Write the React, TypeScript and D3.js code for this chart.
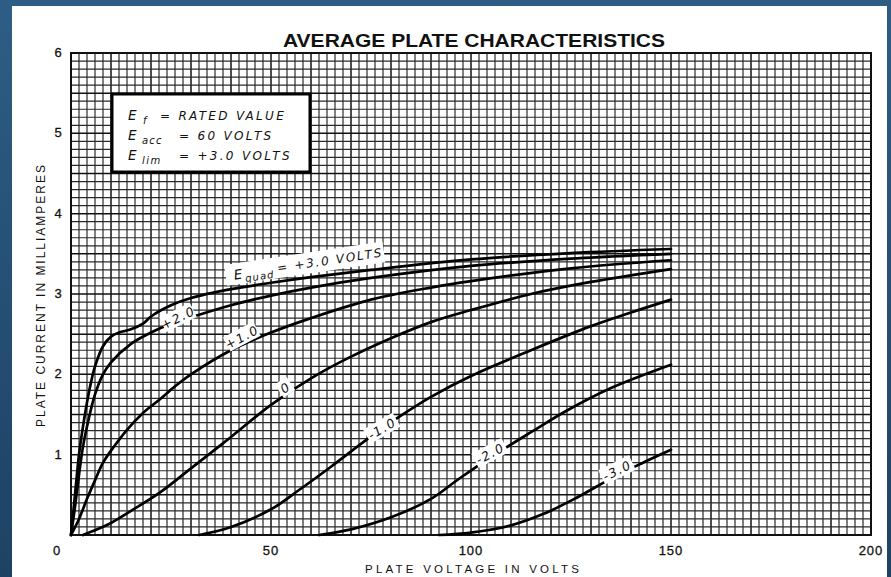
import React from "react";
import * as d3 from "d3";

// ---------- DATA ----------
const seriesNames = ["+3.0", "+2.0", "+1.0", "0", "-1.0", "-2.0", "-3.0"];

const volts_p3 = [0, 1, 2, 3, 4, 5, 6, 8, 10, 12, 15, 18, 20, 25, 30, 40, 50, 60, 75, 100, 125, 150];
const amps_p3 = [0, 0.5, 1.0, 1.35, 1.65, 1.9, 2.1, 2.35, 2.47, 2.52, 2.56, 2.63, 2.72, 2.86, 2.95, 3.06, 3.14, 3.21, 3.3, 3.43, 3.51, 3.56];

const volts_p2 = [0, 1, 2, 3, 4, 6, 8, 10, 15, 20, 25, 30, 40, 50, 60, 75, 100, 125, 150];
const amps_p2 = [0, 0.35, 0.75, 1.1, 1.35, 1.75, 2.0, 2.15, 2.38, 2.52, 2.63, 2.71, 2.86, 2.98, 3.08, 3.2, 3.35, 3.44, 3.5];

const volts_p1 = [0, 2, 4, 6, 8, 10, 14, 18, 22, 26, 30, 40, 50, 60, 75, 90, 100, 125, 150];
const amps_p1 = [0, 0.2, 0.45, 0.68, 0.9, 1.05, 1.31, 1.52, 1.68, 1.85, 2.0, 2.3, 2.52, 2.7, 2.93, 3.08, 3.16, 3.32, 3.42];

const volts_0 = [3, 5, 10, 15, 22, 30, 40, 50, 60, 70, 80, 90, 100, 115, 130, 150];
const amps_0 = [0, 0.04, 0.15, 0.3, 0.52, 0.83, 1.22, 1.62, 1.95, 2.22, 2.45, 2.65, 2.8, 3.0, 3.15, 3.31];

const volts_m1 = [32, 40, 50, 57, 65, 74, 82, 90, 100, 115, 130, 140, 150];
const amps_m1 = [0, 0.1, 0.32, 0.56, 0.85, 1.19, 1.47, 1.72, 1.98, 2.3, 2.6, 2.77, 2.93];

const volts_m2 = [62, 70, 80, 90, 97, 105, 115, 124, 135, 150];
const amps_m2 = [0, 0.07, 0.22, 0.45, 0.7, 0.97, 1.28, 1.55, 1.83, 2.12];

const volts_m3 = [92, 100, 110, 118, 125.5, 136, 143, 150];
const amps_m3 = [0, 0.03, 0.12, 0.26, 0.44, 0.73, 0.9, 1.06];

const allVolts = [volts_p3, volts_p2, volts_p1, volts_0, volts_m1, volts_m2, volts_m3];
const allAmps = [amps_p3, amps_p2, amps_p1, amps_0, amps_m1, amps_m2, amps_m3];

// curve label anchors (data coords) and tilt
const labelVolts = [58.5, 26.75, 42.7, 53.5, 77.7, 104.75, 136.5];
const labelAmps = [3.36, 2.71, 2.47, 1.84, 1.33, 1.02, 0.81];
const labelAngles = [-8.5, -26, -28, -34, -30, -28, -26];

const xTicks = [0, 50, 100, 150, 200];
const yTicks = [1, 2, 3, 4, 5, 6];

const title = "AVERAGE PLATE CHARACTERISTICS";
const xTitle = "PLATE VOLTAGE IN VOLTS";
const yTitle = "PLATE CURRENT IN MILLIAMPERES";

// ---------- LAYOUT ----------
const W = 891;
const H = 577;
const plotL = 71, plotR = 871, plotT = 53, plotB = 535;

const x = d3.scaleLinear().domain([0, 200]).range([plotL, plotR]);
const y = d3.scaleLinear().domain([0, 6]).range([plotB, plotT]);

const handFont = "'DejaVu Sans', 'Liberation Sans', sans-serif";

export default function App() {
  const line = d3
    .line<[number, number]>()
    .x((d) => x(d[0]))
    .y((d) => y(d[1]))
    .curve(d3.curveCatmullRom.alpha(0.5));

  const xGrid = d3.range(0, 101).map((i) => i * 2);
  const yGrid = d3.range(0, 61).map((i) => i / 10);

  return (
    <>
      <style>{"body{margin:0;}"}</style>
      <svg width={W} height={H} style={{ display: "block" }}>
        <defs>
          <linearGradient id="bg" x1="0" y1="0" x2="0" y2="1">
            <stop offset="0" stopColor="#2e5d85" />
            <stop offset="1" stopColor="#1d4264" />
          </linearGradient>
        </defs>
        <rect x={0} y={0} width={W} height={H} fill="url(#bg)" />
        <rect x={12} y={6} width={875} height={H} fill="#ffffff" />

        {/* title */}
        <text
          x={474}
          y={47}
          textAnchor="middle"
          fontFamily="'Liberation Sans', Arial, sans-serif"
          fontWeight="bold"
          fontSize={19}
          fill="#111"
          textLength={382}
          lengthAdjust="spacingAndGlyphs"
        >
          {title}
        </text>

        {/* grid */}
        <g>
          {xGrid.map((v, i) => (
            <line
              key={"gx" + i}
              x1={x(v)}
              x2={x(v)}
              y1={plotT}
              y2={plotB}
              stroke={i % 5 === 0 ? "#111" : "#2a2a2a"}
              strokeWidth={i % 5 === 0 ? 1.5 : 1.2}
            />
          ))}
          {yGrid.map((v, i) => (
            <line
              key={"gy" + i}
              x1={plotL}
              x2={plotR}
              y1={y(v)}
              y2={y(v)}
              stroke={i % 5 === 0 ? "#111" : "#2a2a2a"}
              strokeWidth={i % 5 === 0 ? 1.5 : 1.2}
            />
          ))}
          <rect
            x={plotL}
            y={plotT}
            width={plotR - plotL}
            height={plotB - plotT}
            fill="none"
            stroke="#111"
            strokeWidth={2}
          />
        </g>

        {/* curves */}
        <g>
          {allVolts.map((vs, k) => {
            const pts = vs.map((v, j) => [v, allAmps[k][j]] as [number, number]);
            return (
              <path
                key={"c" + k}
                d={line(pts) || ""}
                fill="none"
                stroke="#000"
                strokeWidth={2.7}
                strokeLinecap="round"
              />
            );
          })}
        </g>

        {/* curve labels */}
        <g fontFamily={handFont} fontStyle="italic" fill="#111">
          {seriesNames.map((name, k) => {
            const cx = x(labelVolts[k]);
            const cy = y(labelAmps[k]);
            if (k === 0) {
              return (
                <g key={"l" + k} transform={`translate(${cx},${cy}) rotate(${labelAngles[k]})`}>
                  <rect x={-80} y={-12} width={160} height={21} fill="#fff" />
                  <text x={-72} y={4} fontSize={13.5} letterSpacing={1.5}>
                    E
                  </text>
                  <text x={-61} y={8} fontSize={10} letterSpacing={1}>
                    quad
                  </text>
                  <text x={-28} y={3} fontSize={12} letterSpacing={1.8}>
                    {"= " + name + " VOLTS"}
                  </text>
                </g>
              );
            }
            const w = name.length > 1 ? 34 : 14;
            return (
              <g key={"l" + k} transform={`translate(${cx},${cy}) rotate(${labelAngles[k]})`}>
                <rect x={-w / 2} y={-8} width={w} height={16} fill="#fff" />
                <text
                  x={0}
                  y={5}
                  textAnchor="middle"
                  fontSize={12.5}
                  letterSpacing={1.5}
                >
                  {name}
                </text>
              </g>
            );
          })}
        </g>

        {/* legend box */}
        <g fontFamily={handFont} fontStyle="italic" fill="#111">
          <rect x={112} y={94} width={198} height={78} fill="#fff" stroke="#000" strokeWidth={3} />
          <text x={128} y={120} fontSize={13.5}>E</text>
          <text x={143} y={124} fontSize={10}>f</text>
          <text x={160} y={120} fontSize={12} letterSpacing={2.3}>= RATED VALUE</text>

          <text x={128} y={140} fontSize={13.5}>E</text>
          <text x={142} y={144} fontSize={10} letterSpacing={1.2}>acc</text>
          <text x={179} y={140} fontSize={12} letterSpacing={2.3}>= 60 VOLTS</text>

          <text x={128} y={160} fontSize={13.5}>E</text>
          <text x={142} y={164} fontSize={10} letterSpacing={1.5}>lim</text>
          <text x={179} y={160} fontSize={12} letterSpacing={2.3}>= +3.0 VOLTS</text>
        </g>

        {/* tick labels */}
        <g fontFamily="'Liberation Sans', Arial, sans-serif" fontSize={13} fill="#111" stroke="#111" strokeWidth={0.3}>
          {yTicks.map((t) => (
            <text key={"yt" + t} x={58} y={y(t) + 4} textAnchor="middle">
              {t}
            </text>
          ))}
          {xTicks.map((t) => (
            <text
              key={"xt" + t}
              x={t === 0 ? 57 : x(t)}
              y={555}
              textAnchor="middle"
              letterSpacing={1}
            >
              {t}
            </text>
          ))}
        </g>

        {/* axis titles */}
        <text
          x={472}
          y={573}
          textAnchor="middle"
          fontFamily="'Liberation Sans', Arial, sans-serif"
          fontSize={11.5}
          fill="#111"
          textLength={214}
          lengthAdjust="spacing"
        >
          {xTitle}
        </text>
        <text
          transform={`translate(45,296) rotate(-90)`}
          textAnchor="middle"
          fontFamily="'Liberation Sans', Arial, sans-serif"
          fontSize={12}
          fill="#111"
          textLength={262}
          lengthAdjust="spacing"
        >
          {yTitle}
        </text>
      </svg>
    </>
  );
}
